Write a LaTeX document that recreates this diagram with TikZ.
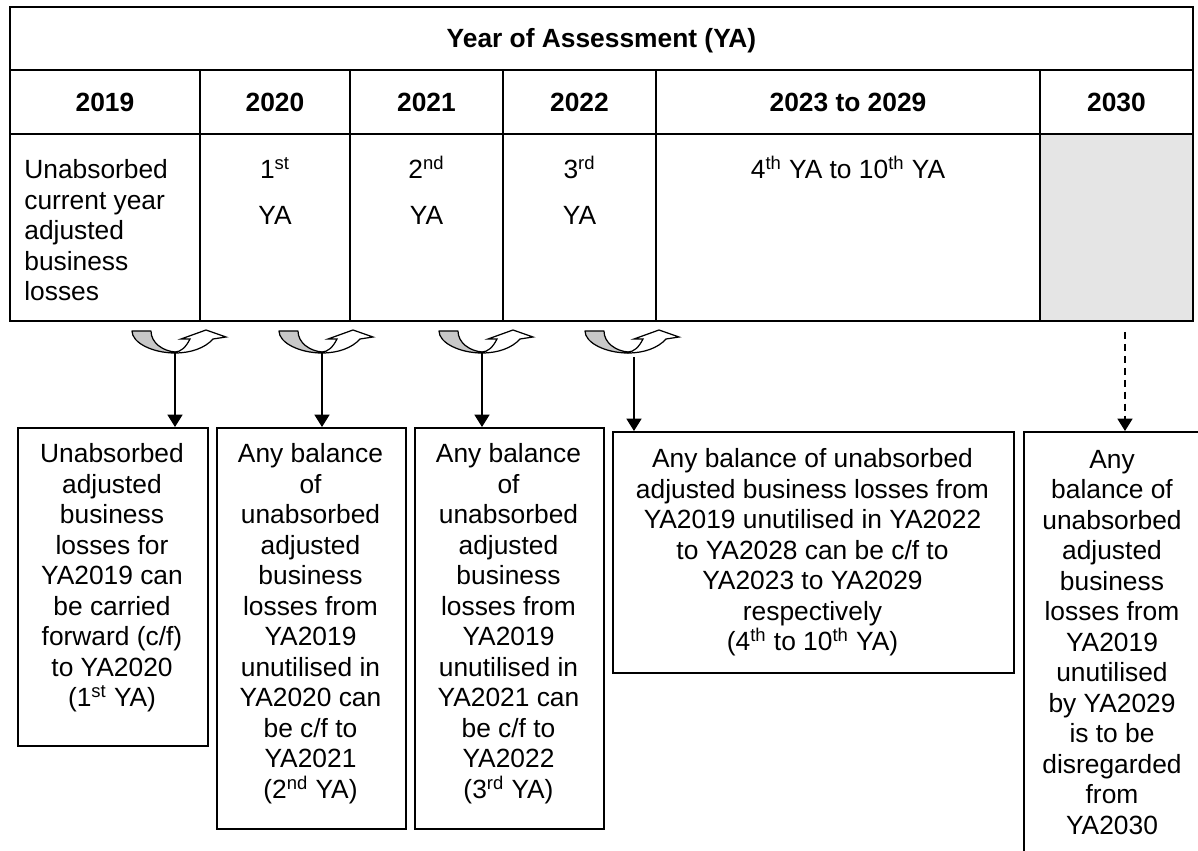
\documentclass[tikz,border=0pt]{standalone}
\usepackage{fontspec}
\setmainfont{Liberation Sans}
\usetikzlibrary{arrows.meta}
\definecolor{ugray}{HTML}{C8C8C8}
\definecolor{cellgray}{HTML}{E5E5E5}
\tikzset{
  tbl/.style={line width=1.1pt},
  boxs/.style={draw, line width=0.9pt, rectangle, inner sep=0pt, anchor=north west},
  btext/.style={anchor=north, align=center, inner sep=0pt, font=\fontsize{15}{17.35}\selectfont},
  ttext/.style={anchor=base, inner sep=0pt, font=\fontsize{15}{17.35}\selectfont},
  hd/.style={anchor=base, inner sep=0pt, font=\fontsize{15}{17.35}\selectfont\bfseries},
  arr/.style={line width=0.9pt, -{Triangle[length=7pt,width=8.5pt]}},
  darr/.style={arr, dash pattern=on 4pt off 2.8pt},
  uturn/.pic={
    \filldraw[fill=ugray, draw=black, line width=0.7pt, line join=round]
      (-43,-22) -- (-24,-22) .. controls (-24,-10) and (-12,-2) .. (0,-1)
      -- (0,0) .. controls (-22,0) and (-43,-10) .. (-43,-22) -- cycle;
    \filldraw[fill=white, draw=black, line width=0.7pt, line join=miter]
      (0,0) .. controls (16,0) and (30,-5) .. (38,-14) -- (51,-16) -- (31,-23)
      -- (6,-14) -- (15,-14) .. controls (11,-6) and (6,-1) .. (0,-1) -- cycle;
  }
}
\begin{document}
\begin{tikzpicture}[x=0.02cm,y=-0.02cm]
\clip (0,0) rectangle (1198,851);
\fill[white] (0,0) rectangle (1198,851);
% table
\fill[cellgray] (1040,134) rectangle (1193,321);
\draw[tbl] (10,7) rectangle (1193,321);
\draw[tbl] (10,70) -- (1193,70);
\draw[tbl] (10,134) -- (1193,134);
\foreach \xx in {200,350,503,656,1040} \draw[tbl] (\xx,70) -- (\xx,321);
\node[hd] (title) at (601.5,48) {Year of Assessment (YA)};
\node[hd] (h1) at (105,111.5) {2019};
\node[hd] (h2) at (275,111.5) {2020};
\node[hd] (h3) at (426.5,111.5) {2021};
\node[hd] (h4) at (579.5,111.5) {2022};
\node[hd] (h5) at (848,111.5) {2023 to 2029};
\node[hd] (h6) at (1116.5,111.5) {2030};
\node[anchor=north west, align=left, inner sep=0pt, font=\fontsize{15}{17.35}\selectfont] (c1) at (24,159.5)
  {Unabsorbed\\current year\\adjusted\\business\\losses};
\node[ttext] (c2a) at (275,178.5) {1\textsuperscript{st}};
\node[ttext] (c2b) at (275,224.5) {YA};
\node[ttext] (c3a) at (426.5,178.5) {2\textsuperscript{nd}};
\node[ttext] (c3b) at (426.5,224.5) {YA};
\node[ttext] (c4a) at (579.5,178.5) {3\textsuperscript{rd}};
\node[ttext] (c4b) at (579.5,224.5) {YA};
\node[ttext] (c5) at (848,178.5) {4\textsuperscript{th} YA to 10\textsuperscript{th} YA};
% boxes
\node[boxs, minimum width=3.8cm, minimum height=6.36cm] (b1) at (17,427) {};
\node[boxs, minimum width=3.78cm, minimum height=8.02cm] (b2) at (216,427) {};
\node[boxs, minimum width=3.78cm, minimum height=8.02cm] (b3) at (414,427) {};
\node[boxs, minimum width=8.02cm, minimum height=4.82cm] (b4) at (612,431) {};
\node[boxs, minimum width=3.56cm, minimum height=10cm] (b5) at (1023,431) {};
\node[btext] (t1) at (112,443.5) {Unabsorbed\\adjusted\\business\\losses for\\YA2019 can\\be carried\\forward (c/f)\\to YA2020\\(1\textsuperscript{st} YA)};
\node[btext] (t2) at (310.5,443.5) {Any balance\\of\\unabsorbed\\adjusted\\business\\losses from\\YA2019\\unutilised in\\YA2020 can\\be c/f to\\YA2021\\(2\textsuperscript{nd} YA)};
\node[btext] (t3) at (508.5,443.5) {Any balance\\of\\unabsorbed\\adjusted\\business\\losses from\\YA2019\\unutilised in\\YA2021 can\\be c/f to\\YA2022\\(3\textsuperscript{rd} YA)};
\node[btext] (t4) at (812.5,448.5) {Any balance of unabsorbed\\adjusted business losses from\\YA2019 unutilised in YA2022\\to YA2028 can be c/f to\\YA2023 to YA2029\\respectively\\(4\textsuperscript{th} to 10\textsuperscript{th} YA)};
\node[btext] (t5) at (1112,450) {Any\\balance of\\unabsorbed\\adjusted\\business\\losses from\\YA2019\\unutilised\\by YA2029\\is to be\\disregarded\\from\\YA2030};
% u-turn arrows
\pic at (175,353) {uturn};
\pic at (322,353) {uturn};
\pic at (482,353) {uturn};
\pic at (628,353) {uturn};
\coordinate (u1) at (175,353);
\coordinate (u2) at (322,353);
\coordinate (u3) at (482,353);
\coordinate (u4) at (634,357);
\coordinate (d0) at (1125,332);
\draw[arr] (u1) -- (u1 |- b1.north);
\draw[arr] (u2) -- (u2 |- b2.north);
\draw[arr] (u3) -- (u3 |- b3.north);
\draw[arr] (u4) -- (u4 |- b4.north);
\draw[darr] (d0) -- (d0 |- b5.north);
\end{tikzpicture}
\end{document}
